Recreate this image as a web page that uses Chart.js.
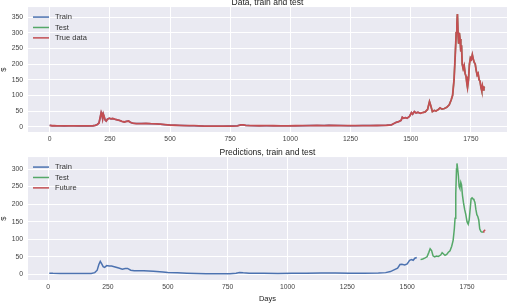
<!DOCTYPE html>
<html>
<head>
<meta charset="utf-8">
<script src="https://cdn.jsdelivr.net/npm/chart.js@4.4.1/dist/chart.umd.min.js"></script>
<style>
html, body { margin: 0; padding: 0; background: #fff; overflow: hidden; }
canvas { position: absolute; left: 0; }
#dataChart { top: -2px; }
#predChart { top: 148px; }
</style>
</head>
<body>
<canvas id="dataChart" width="507" height="150"></canvas>
<canvas id="predChart" width="507" height="155"></canvas>
<script>
// true price (day index -> $)
const trueDays = [0, 10, 20, 30, 45, 60, 80, 100, 120, 140, 160, 180, 190, 198, 205, 210, 214, 217, 220, 223, 226, 230, 235, 240, 248, 255, 262, 270, 280, 290, 300, 310, 320, 328, 335, 345, 360, 380, 400, 420, 440, 460, 480, 500, 520, 540, 560, 580, 600, 620, 640, 660, 680, 700, 720, 740, 760, 780, 795, 805, 815, 830, 850, 870, 900, 930, 960, 990, 1020, 1050, 1080, 1110, 1140, 1160, 1180, 1210, 1240, 1270, 1300, 1330, 1360, 1380, 1400, 1420, 1430, 1440, 1450, 1460, 1465, 1470, 1478, 1485, 1495, 1503, 1508, 1515, 1522, 1530, 1540, 1550, 1560, 1570, 1578, 1584, 1590, 1598, 1605, 1615, 1622, 1630, 1640, 1650, 1660, 1668, 1674, 1680, 1685, 1689, 1692, 1694, 1697, 1699, 1702, 1705, 1708, 1711, 1714, 1718, 1722, 1726, 1730, 1733, 1736, 1740, 1744, 1748, 1752, 1756, 1760, 1764, 1768, 1772, 1776, 1780, 1784, 1788, 1792, 1795, 1798, 1801, 1804, 1807];
const trueValues = [4.3, 3.0, 3.3, 2.8, 2.6, 2.5, 2.8, 2.6, 2.3, 2.5, 2.4, 3.0, 4.5, 7, 12, 30, 45, 38, 25, 40, 33, 22, 18, 24, 27, 25, 26, 24, 22, 20, 17, 15, 17, 18, 14, 11, 10, 10, 10.5, 9.5, 9, 8, 6.5, 5, 4.5, 4, 3.5, 3.3, 3.2, 2.5, 1.8, 1.6, 1.5, 1.7, 1.6, 1.8, 2, 2.8, 6, 5.5, 4, 3.5, 3.2, 3.0, 3.2, 3.0, 2.6, 2.6, 3.0, 3.2, 3.5, 4.0, 3.6, 4.2, 3.8, 3.6, 3.3, 3.2, 3.4, 3.6, 3.8, 4.0, 4.5, 6, 10, 14, 16, 20, 30, 27, 29, 27, 33, 45, 40, 48, 44, 46, 43, 45, 47, 55, 80, 65, 48, 52, 50, 55, 60, 56, 58, 62, 70, 85, 100, 150, 230, 300, 330, 360, 290, 265, 300, 280, 240, 260, 200, 185, 195, 170, 160, 140, 125, 150, 200, 220, 215, 230, 215, 205, 200, 180, 165, 170, 150, 145, 125, 115, 130, 118, 125, 128];
const trainEnd = 1540;
const testStart = 1550;

// model output
const trainPredDays = [5, 20, 50, 100, 150, 180, 195, 205, 212, 218, 224, 230, 236, 245, 255, 265, 280, 295, 310, 322, 332, 345, 360, 400, 440, 480, 500, 540, 580, 620, 660, 700, 760, 785, 800, 815, 840, 900, 960, 1020, 1080, 1140, 1200, 1260, 1320, 1380, 1410, 1430, 1445, 1460, 1470, 1478, 1490, 1500, 1510, 1518, 1525, 1532, 1540];
const trainPredValues = [3.5, 3.0, 2.5, 2.5, 2.3, 2.6, 5, 12, 28, 37, 30, 22, 20, 25, 24, 24, 21, 18, 15, 17, 17, 12, 10.5, 10.5, 9, 7, 5.5, 4.5, 3.5, 2.5, 1.8, 1.8, 2, 3.5, 5.5, 4.5, 3.5, 3.2, 2.8, 3, 3.4, 3.8, 3.7, 3.3, 3.5, 4, 5, 8, 13, 18, 28, 29, 27, 30, 40, 42, 40, 46, 48];
const testPredDays = [1556, 1565, 1575, 1583, 1590, 1596, 1602, 1608, 1615, 1622, 1630, 1640, 1646, 1652, 1658, 1665, 1672, 1679, 1686, 1692, 1697, 1700, 1703, 1706, 1708, 1711, 1714, 1717, 1720, 1724, 1727, 1731, 1735, 1740, 1745, 1750, 1755, 1759, 1763, 1767, 1771, 1775, 1779, 1783, 1787, 1791, 1795, 1799, 1803, 1808, 1813, 1817];
const testPredValues = [42, 44, 47, 50, 62, 73, 68, 53, 50, 52, 51, 55, 62, 58, 54, 57, 63, 67, 80, 97, 130, 160, 230, 300, 316, 300, 280, 250, 245, 262, 255, 225, 205, 185, 170, 150, 143, 155, 185, 215, 218, 215, 212, 205, 185, 170, 165, 155, 130, 122, 120, 121];
const futureDays = [1817, 1820, 1823, 1826];
const futureValues = [121, 123, 125, 127];

const xTicks = [0, 250, 500, 750, 1000, 1250, 1500, 1750];
const dataYTicks = [0, 50, 100, 150, 200, 250, 300, 350];
const predYTicks = [0, 50, 100, 150, 200, 250, 300];

const BLUE = '#4C72B0', GREEN = '#55A868', RED = '#C44E52';
const FONT = '"Liberation Sans", Arial, sans-serif';

function toPoints(days, values) {
    return days.map((d, i) => ({ x: d, y: values[i] }));
}

function pickPoints(keep) {
    const pts = [];
    for (let i = 0; i < trueDays.length; i++) {
        if (keep(trueDays[i])) pts.push({ x: trueDays[i], y: trueValues[i] });
    }
    return pts;
}

const plotBackground = {
    id: 'plotBackground',
    beforeDraw(chart) {
        const a = chart.chartArea;
        chart.ctx.save();
        chart.ctx.fillStyle = '#EAEAF2';
        chart.ctx.fillRect(a.left, a.top, a.right - a.left, a.bottom - a.top);
        chart.ctx.restore();
    }
};

// matplotlib style legend: short line + label, top left inside the axes
const lineLegend = {
    id: 'lineLegend',
    afterDraw(chart) {
        const ctx = chart.ctx;
        const a = chart.chartArea;
        ctx.save();
        ctx.font = '7.5px ' + FONT;
        ctx.textBaseline = 'middle';
        chart.data.datasets.forEach((ds, i) => {
            const y = a.top + 10 + i * 10.4;
            ctx.strokeStyle = ds.borderColor;
            ctx.lineWidth = 1.5;
            ctx.beginPath();
            ctx.moveTo(a.left + 5, y);
            ctx.lineTo(a.left + 21, y);
            ctx.stroke();
            ctx.fillStyle = '#333';
            ctx.fillText(ds.label, a.left + 27, y);
        });
        ctx.restore();
    }
};

function makeChart(id, title, datasets, xMin, xMax, yMin, yMax, yTicks, xTitle, xHeight) {
    const tickFont = { size: 6.8, family: FONT };
    new Chart(document.getElementById(id), {
        type: 'line',
        data: { datasets: datasets },
        options: {
            responsive: false,
            animation: false,
            parsing: false,
            layout: { padding: 0 },
            elements: { point: { radius: 0 }, line: { borderWidth: 1.5, tension: 0 } },
            plugins: {
                legend: { display: false },
                tooltip: { enabled: false },
                title: {
                    display: true,
                    text: title,
                    fullSize: false,
                    color: '#222',
                    font: { size: 8.5, family: FONT, weight: 'normal', lineHeight: 1.05 },
                    padding: { top: 0, bottom: 0 }
                }
            },
            scales: {
                x: {
                    type: 'linear',
                    min: xMin,
                    max: xMax,
                    afterBuildTicks: s => { s.ticks = xTicks.map(v => ({ value: v })); },
                    afterFit: s => { s.height = xHeight; },
                    ticks: { callback: v => String(v), font: tickFont, color: '#444', padding: 3, maxRotation: 0, autoSkip: false },
                    grid: { color: '#fff', lineWidth: 1, drawTicks: false },
                    border: { display: false },
                    title: { display: !!xTitle, text: xTitle, color: '#222', font: { size: 7.5, family: FONT }, padding: 0 }
                },
                y: {
                    min: yMin,
                    max: yMax,
                    afterBuildTicks: s => { s.ticks = yTicks.map(v => ({ value: v })); },
                    afterFit: s => { s.width = 28; },
                    ticks: { callback: v => String(v), font: tickFont, color: '#444', padding: 5 },
                    grid: { color: '#fff', lineWidth: 1, drawTicks: false },
                    border: { display: false },
                    title: { display: true, text: '$', color: '#222', font: { size: 7.5, family: FONT, lineHeight: 1 }, padding: 0 }
                }
            }
        },
        plugins: [plotBackground, lineLegend]
    });
}

makeChart('dataChart', 'Data, train and test', [
    { label: 'Train', data: pickPoints(d => d <= trainEnd), borderColor: BLUE, order: 1 },
    { label: 'Test', data: pickPoints(d => d >= testStart), borderColor: GREEN, order: 1 },
    { label: 'True data', data: toPoints(trueDays, trueValues), borderColor: RED, borderWidth: 1.8, order: 0 }
], -90, 1900, -17, 382, dataYTicks, '', 16);

makeChart('predChart', 'Predictions, train and test', [
    { label: 'Train', data: toPoints(trainPredDays, trainPredValues), borderColor: BLUE },
    { label: 'Test', data: toPoints(testPredDays, testPredValues), borderColor: GREEN },
    { label: 'Future', data: toPoints(futureDays, futureValues), borderColor: RED }
], -84, 1917, -16, 334, predYTicks, 'Days', 23);
</script>
</body>
</html>
